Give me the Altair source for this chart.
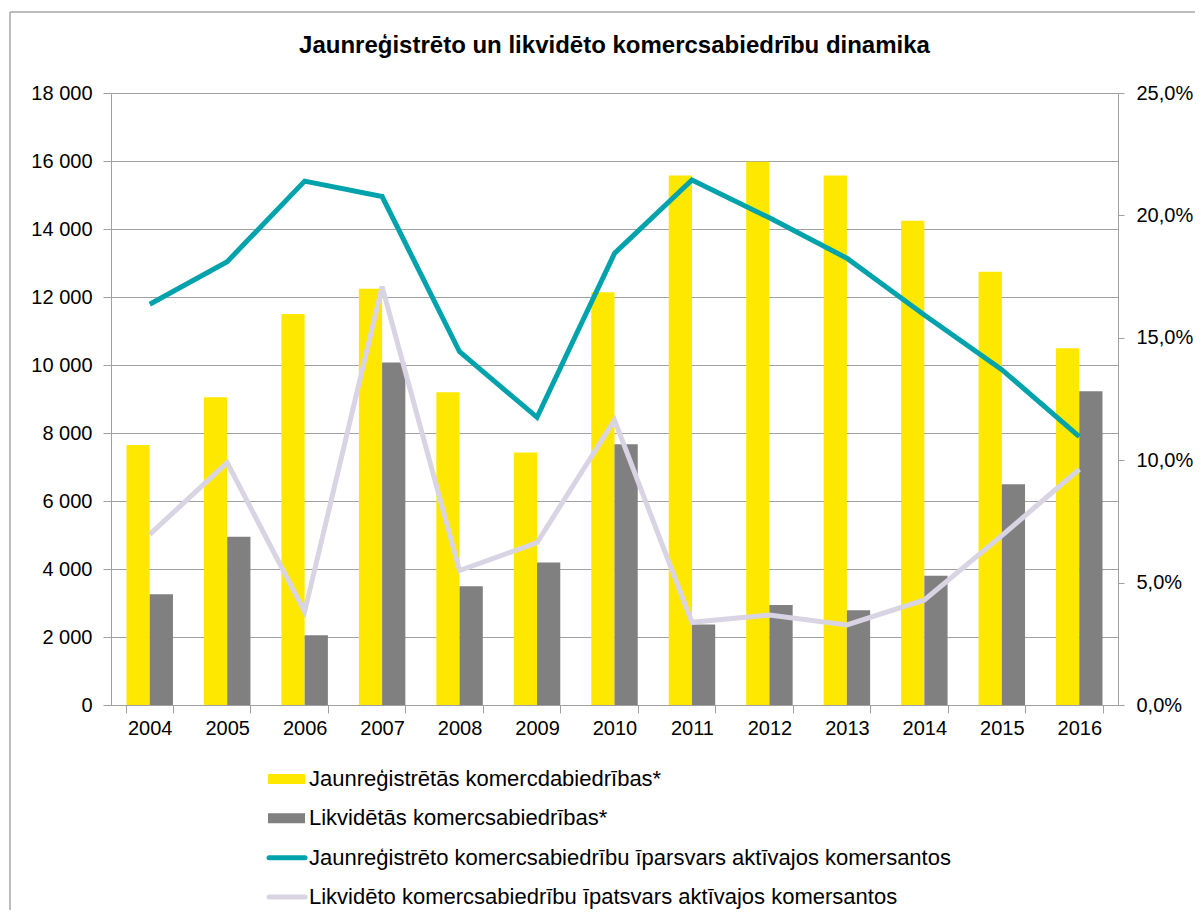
import altair as alt
import pandas as pd

# ---------------- data ----------------
years = [str(y) for y in range(2004, 2017)]
new_companies = [7650, 9050, 11500, 12240, 9200, 7430, 12140, 15570, 15980, 15570, 14240, 12740, 10490]
liquidated = [3260, 4950, 2050, 10070, 3490, 4190, 7670, 2370, 2940, 2790, 3800, 6490, 9230]
new_share_pct = [16.37, 18.11, 21.4, 20.77, 14.43, 11.75, 18.45, 21.45, 19.9, 18.25, 15.93, 13.7, 10.96]
liq_share_pct = [6.97, 9.9, 3.81, 17.09, 5.49, 6.63, 11.64, 3.38, 3.68, 3.27, 4.29, 6.92, 9.63]

series_names = [
    "Jaunreģistrētās komercdabiedrības*",
    "Likvidētās komercsabiedrības*",
    "Jaunreģistrēto komercsabiedrību īparsvars aktīvajos komersantos",
    "Likvidēto komercsabiedrību īpatsvars aktīvajos komersantos",
]
series_kinds = ["bar", "bar", "line", "line"]
series_colors = ["#FFE800", "#808080", "#00A3AC", "#D9D4E3"]
title_text = "Jaunreģistrēto un likvidēto komercsabiedrību dinamika"

left_ticks = list(range(0, 18001, 2000))
right_ticks = [0, 0.05, 0.10, 0.15, 0.20, 0.25]

# ---------------- tables ----------------
bar_df = pd.DataFrame({
    "year": years * 2,
    "series": [series_names[0]] * len(years) + [series_names[1]] * len(years),
    "value": new_companies + liquidated,
})
line_df = pd.DataFrame({
    "year": years * 2,
    "series": [series_names[2]] * len(years) + [series_names[3]] * len(years),
    "value": [v / 100 for v in new_share_pct + liq_share_pct],
})
legend_df = pd.DataFrame({"series": series_names, "kind": series_kinds})
one_row = pd.DataFrame({"a": [0]})
title_df = pd.DataFrame({"t": [title_text]})

FONT = "Liberation Sans"
GRID = "#A0A0A0"

color = alt.Color("series:N", scale=alt.Scale(domain=series_names, range=series_colors), legend=None)

x_enc = alt.X(
    "year:O",
    scale=alt.Scale(paddingInner=0.4, paddingOuter=0.2),
    axis=alt.Axis(title=None, labelAngle=0, tickBand="extent", tickSize=8, labelPadding=5,
                  labelFontSize=20, labelFont=FONT, labelColor="#000000",
                  domainColor=GRID, tickColor=GRID, grid=False),
)

bars = alt.Chart(bar_df).mark_bar(stroke="#FFF34D", strokeWidth=0).encode(
    x=x_enc,
    xOffset=alt.XOffset("series:N", sort=series_names[:2], scale=alt.Scale(paddingInner=0, paddingOuter=0)),
    y=alt.Y("value:Q", scale=alt.Scale(domain=[0, 18000]),
            axis=alt.Axis(title=None, values=left_ticks, tickSize=8, labelPadding=11,
                          labelExpr="replace(format(datum.value, ','), ',', ' ')",
                          labelFontSize=20, labelFont=FONT, labelColor="#000000",
                          grid=True, gridColor=GRID, domainColor=GRID, tickColor=GRID)),
    color=color,
)

lines = alt.Chart(line_df).mark_line(strokeWidth=5, strokeJoin="miter").encode(
    x=x_enc,
    y=alt.Y("value:Q", scale=alt.Scale(domain=[0, 0.25]),
            axis=alt.Axis(title=None, orient="right", values=right_ticks, tickSize=6, labelPadding=12,
                          labelExpr="replace(format(datum.value, '.1%'), '.', ',')",
                          labelFontSize=20, labelFont=FONT, labelColor="#000000",
                          grid=False, domainColor=GRID, tickColor=GRID)),
    color=color,
)

leg_y = alt.Y("series:N", scale=alt.Scale(type="point", domain=series_names, range=[686, 804], padding=0),
              axis=None)

leg_bars = alt.Chart(legend_df).transform_filter("datum.kind == 'bar'").mark_rule(strokeWidth=10).encode(
    x=alt.value(157), x2=alt.value(194), y=leg_y, color=color)
leg_lines = alt.Chart(legend_df).transform_filter("datum.kind == 'line'").mark_rule(
    strokeWidth=5, strokeCap="round").encode(
    x=alt.value(158), x2=alt.value(194), y=leg_y, color=color)
leg_text = alt.Chart(legend_df).mark_text(align="left", baseline="middle", fontSize=22, font=FONT,
                                          color="#000000").encode(
    x=alt.value(198), y=leg_y, text="series:N")
legend = alt.layer(leg_bars, leg_lines, leg_text)

title = alt.Chart(title_df).mark_text(fontSize=24, fontWeight="bold", font=FONT, color="#000000",
                                      align="center", baseline="middle").encode(
    x=alt.value(503.5), y=alt.value(-47), text="t:N")

border_top = alt.Chart(one_row).mark_rule(color="#A6A6A6", strokeWidth=1.5).encode(
    x=alt.value(-101), x2=alt.value(1090), y=alt.value(-81))
border_left = alt.Chart(one_row).mark_rule(color="#A6A6A6", strokeWidth=1.5).encode(
    x=alt.value(-101), y=alt.value(-81), y2=alt.value(830))

chart = alt.layer(bars, lines, legend, title, border_top, border_left).resolve_scale(
    y="independent"
).properties(
    width=1007, height=612,
    autosize=alt.AutoSizeParams(type="none"),
    padding={"left": 103, "top": 85, "right": 77, "bottom": 205},
).configure_view(stroke=None)

chart.save("out.html", embed_options={"renderer": "svg", "actions": False})
